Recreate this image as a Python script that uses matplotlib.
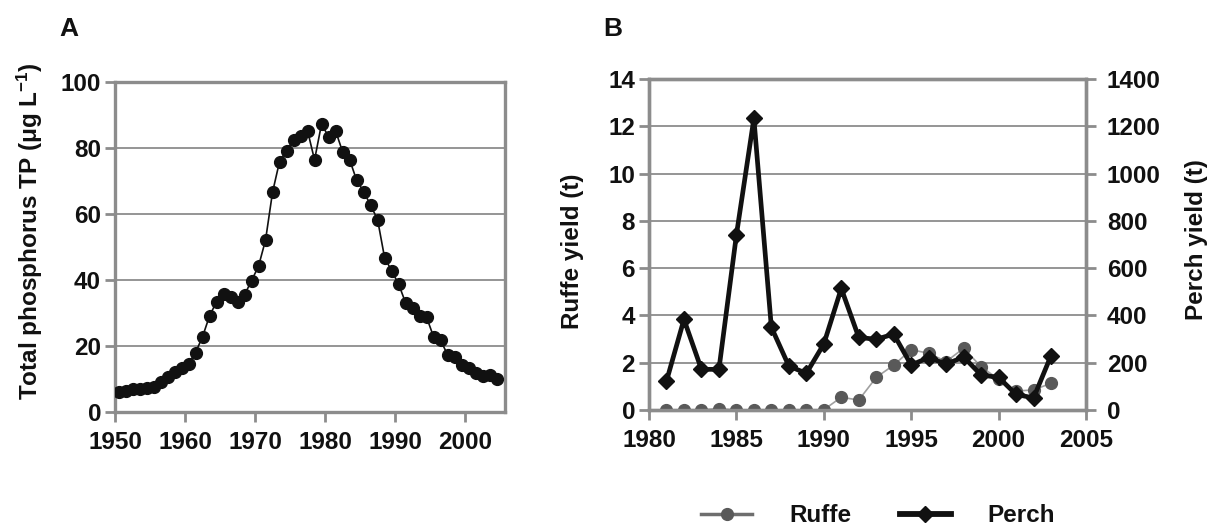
import matplotlib
matplotlib.use('Agg')
import matplotlib.pyplot as plt
import numpy as np
from matplotlib.lines import Line2D

# ---------------- data ----------------
# Panel A: total phosphorus (annual means, plotted at mid-year)
tp_years = [y + 0.5 for y in range(1950, 2005)]
tp_values = [6.2, 6.4, 6.9, 7.0, 7.2, 7.6, 9.2, 10.7, 12.2, 13.2,
             14.5, 18.0, 22.8, 29.1, 33.4, 35.9, 34.9, 33.4, 35.5, 39.8,
             44.2, 52.1, 66.6, 75.9, 79.2, 82.4, 83.7, 85.2, 76.4, 87.3,
             83.4, 85.2, 78.9, 76.5, 70.3, 66.8, 62.7, 58.3, 46.8, 42.8,
             38.8, 33.1, 31.4, 29.1, 28.7, 22.8, 21.8, 17.3, 16.8, 14.2,
             13.2, 11.7, 11.0, 11.1, 9.9]

# Panel B: fish yields
fish_years = list(range(1981, 2004))
ruffe_yield = [0.01, 0.01, 0.01, 0.06, 0.0, 0.01, 0.01, 0.01, 0.01, 0.01,
               0.54, 0.42, 1.38, 1.90, 2.55, 2.40, 2.05, 2.61, 1.83, 1.30,
               0.80, 0.85, 1.13]
perch_yield = [122, 383, 172, 172, 740, 1233, 350, 186, 155, 279,
               514, 307, 299, 321, 190, 222, 194, 224, 148, 138,
               66, 51, 230]

tp_xticks = [1950, 1960, 1970, 1980, 1990, 2000]
tp_yticks = [0, 20, 40, 60, 80, 100]
fish_xticks = [1980, 1985, 1990, 1995, 2000, 2005]
ruffe_yticks = [0, 2, 4, 6, 8, 10, 12, 14]
perch_yticks = [0, 200, 400, 600, 800, 1000, 1200, 1400]

# ---------------- style ----------------
plt.rcParams['font.family'] = ['Liberation Sans', 'DejaVu Sans']
plt.rcParams['font.weight'] = 'bold'
plt.rcParams['mathtext.fontset'] = 'custom'
plt.rcParams['mathtext.rm'] = 'Liberation Sans:bold'
plt.rcParams['mathtext.it'] = 'Liberation Sans:bold'
plt.rcParams['mathtext.bf'] = 'Liberation Sans:bold'
plt.rcParams['mathtext.default'] = 'bf'

GRAY = '#8c8c8c'
TXT = '#111111'
FS = 17.5      # tick labels
LFS = 17.5     # axis labels / legend

W, H = 1217, 531
fig = plt.figure(figsize=(W / 100, H / 100), dpi=100)


def style_axes(ax):
    for s in ax.spines.values():
        s.set_color(GRAY)
        s.set_linewidth(2.4)
    ax.tick_params(direction='out', length=7, width=2, color=GRAY,
                   labelsize=FS, labelcolor=TXT, pad=3)
    for lab in ax.get_xticklabels() + ax.get_yticklabels():
        lab.set_fontweight('bold')


# ---------------- Panel A ----------------
axA = fig.add_axes([115 / W, 1 - 412 / H, 390 / W, 330 / H])
axA.plot(tp_years, tp_values, '-o', color=TXT, lw=1.2, ms=8.5, zorder=3)
axA.set_xlim(1950, 2005.7)
axA.set_ylim(0, 100)
axA.set_xticks(tp_xticks)
axA.set_yticks(tp_yticks)
axA.yaxis.grid(True, color=GRAY, lw=1.3)
axA.set_axisbelow(True)
style_axes(axA)
axA.tick_params(axis='x', pad=7)
fig.text(30 / W, 1 - 231 / H, r'Total phosphorus TP (μg L$^{-1}$)',
         rotation=90, ha='center', va='center', fontsize=LFS,
         fontweight='bold', color=TXT)
fig.text(69 / W, 1 - 29 / H, 'A', ha='center', va='center',
         fontsize=19, fontweight='bold', color=TXT)

# ---------------- Panel B ----------------
axB = fig.add_axes([649 / W, 1 - 410 / H, 437 / W, 331 / H])
axB.plot(fish_years, ruffe_yield, '-', color='#a0a0a0', lw=1.2, zorder=2)
axB.plot(fish_years, ruffe_yield, 'o', color='#595959', ms=8.5, zorder=3)
axB.set_xlim(1980, 2005)
axB.set_ylim(0, 14)
axB.set_xticks(fish_xticks)
axB.set_yticks(ruffe_yticks)
axB.yaxis.grid(True, color=GRAY, lw=1.3)
axB.set_axisbelow(True)
style_axes(axB)
axB.tick_params(axis='x', pad=7)

axB2 = axB.twinx()
axB2.plot(fish_years, perch_yield, '-D', color=TXT, lw=3.4, ms=8, zorder=4)
axB2.set_ylim(0, 1400)
axB2.set_yticks(perch_yticks)
style_axes(axB2)
axB2.tick_params(axis='y', pad=8)

fig.text(572 / W, 1 - 251 / H, 'Ruffe yield (t)', rotation=90,
         ha='center', va='center', fontsize=LFS, fontweight='bold', color=TXT)
fig.text(1197 / W, 1 - 240 / H, 'Perch yield (t)', rotation=90,
         ha='center', va='center', fontsize=LFS, fontweight='bold', color=TXT)
fig.text(613 / W, 1 - 29 / H, 'B', ha='center', va='center',
         fontsize=19, fontweight='bold', color=TXT)

handles = [
    Line2D([], [], color='#6e6e6e', lw=2.5, marker='o', ms=8.5,
           markerfacecolor='#595959', markeredgecolor='#595959'),
    Line2D([], [], color=TXT, lw=4.2, marker='D', ms=8),
]
leg = fig.legend(handles, ['Ruffe', 'Perch'], ncol=2, loc='center',
                 bbox_to_anchor=(878 / W, 1 - 516 / H), frameon=False,
                 fontsize=LFS, handlelength=2.1, handletextpad=1.5,
                 columnspacing=2.0, borderpad=0.1)
for t in leg.get_texts():
    t.set_fontweight('bold')
    t.set_color(TXT)

fig.savefig('out.png', dpi=100)
